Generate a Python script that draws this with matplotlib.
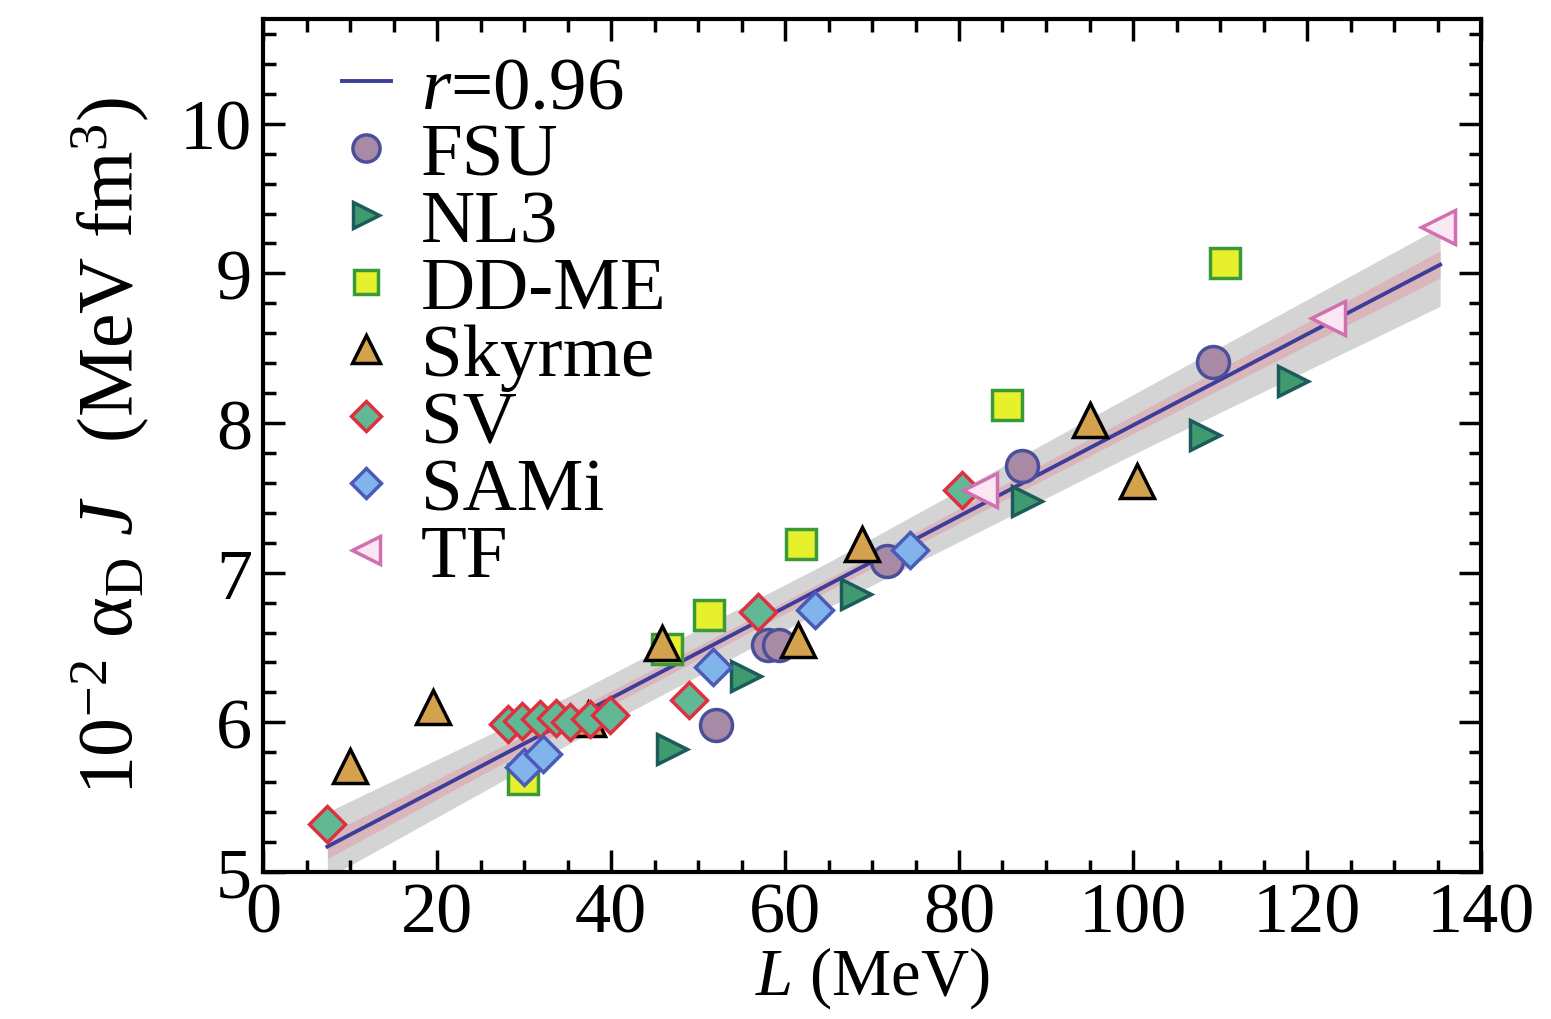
import numpy as np
import matplotlib
matplotlib.use('Agg')
import matplotlib.pyplot as plt
from matplotlib.ticker import MultipleLocator

plt.rcParams['font.family'] = ['Liberation Serif', 'DejaVu Serif']
plt.rcParams['mathtext.fontset'] = 'custom'
plt.rcParams['mathtext.rm'] = 'Liberation Serif'
plt.rcParams['mathtext.it'] = 'Liberation Serif:italic'

# ---- data ----
fsu_L = [52.1, 58.0, 59.3, 71.7, 87.2, 109.2]
fsu_a = [5.98, 6.52, 6.52, 7.08, 7.71, 8.41]

nl3_L = [47.0, 55.5, 68.2, 87.8, 108.3, 118.4]
nl3_a = [5.82, 6.31, 6.86, 7.48, 7.92, 8.28]

ddme_L = [29.9, 46.4, 51.3, 61.8, 85.5, 110.6]
ddme_a = [5.62, 6.49, 6.72, 7.19, 8.12, 9.07]

sky_L = [10.0, 19.5, 37.4, 45.9, 61.5, 68.9, 95.1, 100.5]
sky_a = [5.71, 6.10, 6.02, 6.53, 6.55, 7.19, 8.02, 7.61]

sv_L = [7.4, 28.2, 29.8, 31.8, 33.7, 35.3, 37.6, 39.9, 49.0, 56.9, 80.3]
sv_a = [5.32, 5.99, 6.01, 6.02, 6.03, 6.00, 6.02, 6.05, 6.15, 6.74, 7.55]

sami_L = [30.0, 32.2, 51.7, 63.4, 74.4]
sami_a = [5.70, 5.79, 6.37, 6.75, 7.15]

tf_L = [82.4, 122.4, 135.1]
tf_a = [7.55, 8.70, 9.31]

# linear fit (slope, intercept) and bands
fit_coef = [0.0304, 4.945]
band_L = [7.4, 35, 65, 100, 135.3]
gray_lo = [4.96, 5.85, 6.77, 7.79, 8.78]
gray_hi = [5.40, 6.17, 7.07, 8.19, 9.31]
pink_lo = [5.09, 5.96, 6.88, 7.93, 8.97]
pink_hi = [5.25, 6.06, 6.96, 8.05, 9.15]

fig = plt.figure(figsize=(15.51, 10.2), dpi=100)
ax = fig.add_axes([263/1551, 1 - 873/1020, 1218/1551, 853/1020])

ax.fill_between(band_L, gray_lo, gray_hi, color='#d4d4d4', lw=0, zorder=1)
ax.fill_between(band_L, pink_lo, pink_hi, color='#dba3ad', alpha=0.6, lw=0, zorder=2)
xx = np.array([band_L[0], band_L[-1]])
ax.plot(xx, np.polyval(fit_coef, xx), color='#3d3d9a', lw=2.8, zorder=3, label=r'$r$=0.96')

ax.plot(fsu_L, fsu_a, 'o', ms=23, mfc='#a88aa6', mec='#4b4f9a', mew=2.5, zorder=4, label='FSU')
ax.plot(nl3_L, nl3_a, '>', ms=22, mfc='#3f9a70', mec='#1d5a5a', mew=2.5, zorder=4, label='NL3')
ax.plot(ddme_L, ddme_a, 's', ms=21, mfc='#e6f02c', mec='#3a9a3a', mew=2.5, zorder=4, label='DD-ME')
ax.plot(sky_L, sky_a, '^', ms=24, mfc='#d4a24c', mec='black', mew=2.5, zorder=4, label='Skyrme')
ax.plot(sv_L, sv_a, 'D', ms=18, mfc='#60b894', mec='#e03040', mew=2.5, zorder=4, label='SV')
ax.plot(sami_L, sami_a, 'D', ms=18, mfc='#80b4ea', mec='#4a5ab8', mew=2.5, zorder=4, label='SAMi')
ax.plot(tf_L, tf_a, '<', ms=24, mfc='#fbe6f3', mec='#d070b0', mew=2.5, zorder=4, label='TF')

ax.set_xlim(0, 140)
ax.set_ylim(5, 10.7)
ax.xaxis.set_major_locator(MultipleLocator(20))
ax.xaxis.set_minor_locator(MultipleLocator(5))
ax.yaxis.set_major_locator(MultipleLocator(1))
ax.yaxis.set_minor_locator(MultipleLocator(0.2))
ax.tick_params(which='both', direction='in', top=True, right=True, width=2.5, labelsize=52)
ax.tick_params(which='major', length=16)
ax.tick_params(which='minor', length=9)
ax.tick_params(axis='x', pad=7)
ax.tick_params(axis='y', pad=8)
for s in ax.spines.values():
    s.set_linewidth(3)

ax.set_xlabel(r'$L$ (MeV)', fontsize=48, labelpad=-2)
ax.set_ylabel('10$^{-2}$ α$_{\\rm D}$ $J$   (MeV fm$^{3}$)', fontsize=56, labelpad=20)

leg = ax.legend(loc='upper left', bbox_to_anchor=((342-263)/1218, (873-56)/853),
                frameon=False, fontsize=54, handlelength=0.65, handletextpad=0.4,
                labelspacing=-0.02, borderaxespad=0, borderpad=0, markerscale=0.85)

fig.savefig('out.png', dpi=100)
